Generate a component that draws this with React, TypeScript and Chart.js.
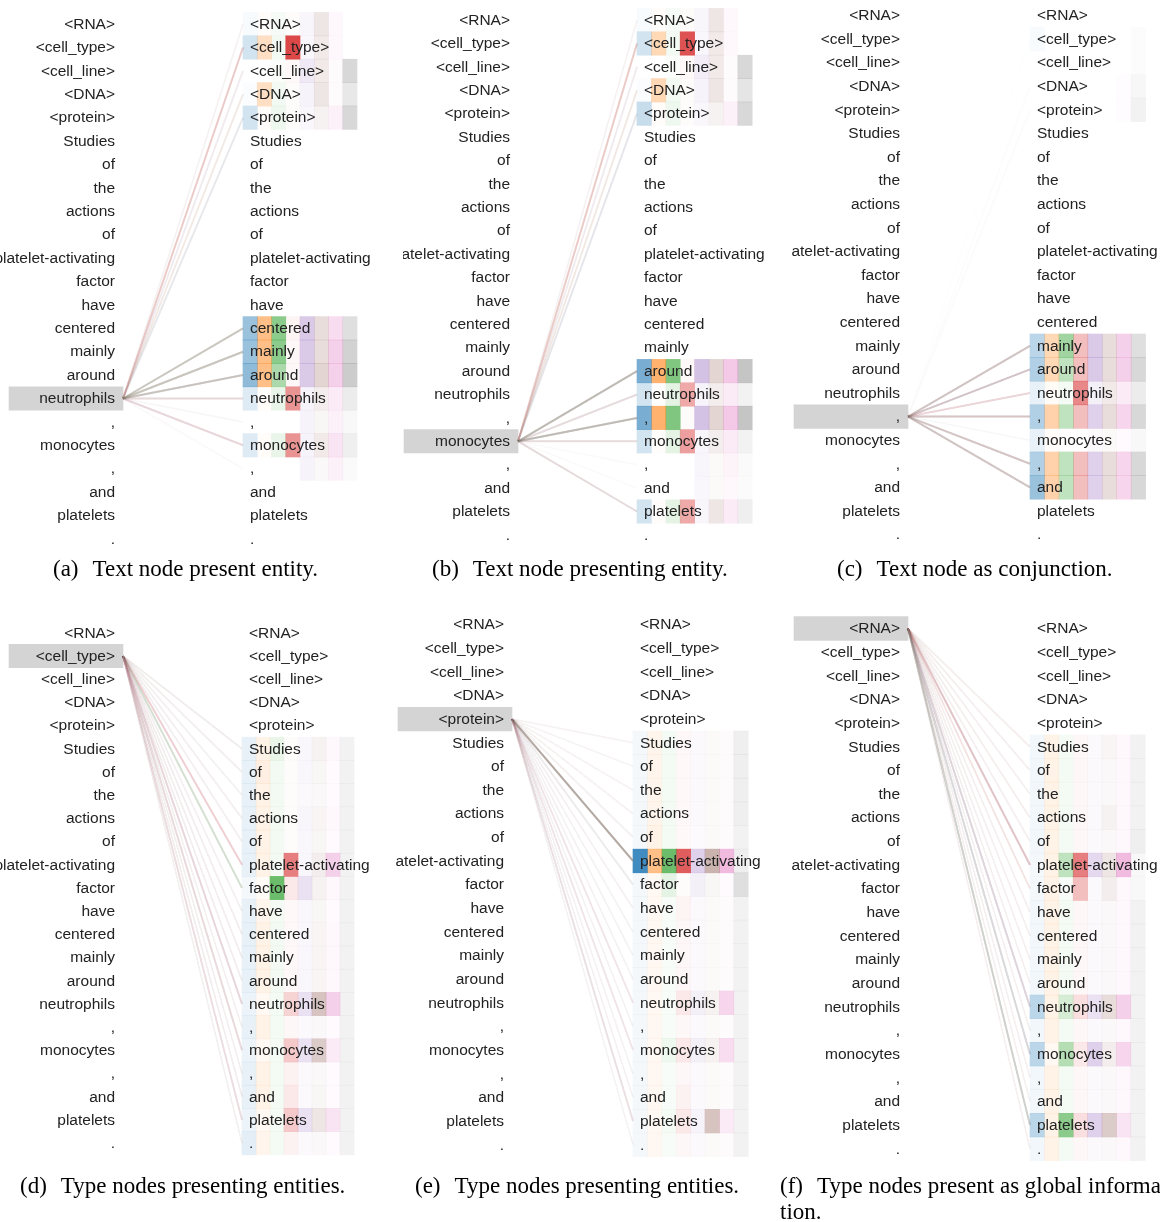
import React, { useEffect, useRef } from "react";
import { Chart, registerables } from "chart.js";

Chart.register(...registerables);

// Token sequence shown on both sides of every attention view
const TOKENS = [
  "<RNA>", "<cell_type>", "<cell_line>", "<DNA>", "<protein>",
  "Studies", "of", "the", "actions", "of", "platelet-activating", "factor",
  "have", "centered", "mainly", "around", "neutrophils", ",", "monocytes",
  ",", "and", "platelets", ".",
];

// One colour per attention head
const HEAD_COLORS: [number, number, number][] = [
  [31, 119, 180], [255, 127, 14], [44, 160, 44], [214, 39, 40],
  [148, 103, 189], [140, 86, 75], [227, 119, 194], [127, 127, 127],
];

// Attention weights (rows = key tokens, columns = heads) for each query token
const ATTN_A = [
  [0.03, 0.02, 0.04, 0.02, 0.06, 0.15, 0.05, 0],
  [0.2, 0.25, 0.06, 0.85, 0.05, 0.12, 0.05, 0],
  [0, 0, 0.02, 0.03, 0.15, 0.12, 0.03, 0.3],
  [0.02, 0.25, 0.06, 0.02, 0.08, 0.15, 0.03, 0.18],
  [0.2, 0.02, 0.08, 0.02, 0.05, 0.08, 0.1, 0.3],
  [0, 0, 0, 0, 0, 0, 0, 0],
  [0, 0, 0, 0, 0, 0, 0, 0],
  [0, 0, 0, 0, 0, 0, 0, 0],
  [0, 0, 0, 0, 0, 0, 0, 0],
  [0, 0, 0, 0, 0, 0, 0, 0],
  [0, 0, 0, 0, 0, 0, 0, 0],
  [0, 0, 0, 0, 0, 0, 0, 0],
  [0, 0, 0, 0, 0, 0, 0, 0],
  [0.45, 0.5, 0.55, 0.05, 0.35, 0.2, 0.25, 0.25],
  [0.45, 0.5, 0.55, 0.04, 0.35, 0.2, 0.35, 0.35],
  [0.5, 0.5, 0.4, 0.04, 0.35, 0.25, 0.35, 0.4],
  [0.15, 0.02, 0.1, 0.5, 0.08, 0.1, 0.15, 0.15],
  [0, 0, 0, 0, 0.08, 0.05, 0.1, 0.05],
  [0.15, 0.02, 0.1, 0.5, 0.08, 0.12, 0.2, 0.12],
  [0, 0, 0, 0, 0.08, 0.04, 0.1, 0.04],
  [0, 0, 0, 0, 0, 0, 0, 0],
  [0, 0, 0, 0, 0, 0, 0, 0],
  [0, 0, 0, 0, 0, 0, 0, 0],
];

const ATTN_B = [
  [0.03, 0.02, 0.04, 0.02, 0.06, 0.15, 0.05, 0],
  [0.2, 0.3, 0.06, 0.8, 0.05, 0.12, 0.05, 0],
  [0, 0, 0.02, 0.03, 0.12, 0.12, 0.03, 0.3],
  [0.02, 0.3, 0.06, 0.02, 0.08, 0.15, 0.03, 0.2],
  [0.25, 0.02, 0.08, 0.02, 0.05, 0.08, 0.1, 0.3],
  [0, 0, 0, 0, 0, 0, 0, 0],
  [0, 0, 0, 0, 0, 0, 0, 0],
  [0, 0, 0, 0, 0, 0, 0, 0],
  [0, 0, 0, 0, 0, 0, 0, 0],
  [0, 0, 0, 0, 0, 0, 0, 0],
  [0, 0, 0, 0, 0, 0, 0, 0],
  [0, 0, 0, 0, 0, 0, 0, 0],
  [0, 0, 0, 0, 0, 0, 0, 0],
  [0, 0, 0, 0, 0, 0, 0, 0],
  [0, 0, 0, 0, 0, 0, 0, 0],
  [0.6, 0.6, 0.6, 0.03, 0.4, 0.25, 0.4, 0.45],
  [0.2, 0.01, 0.12, 0.4, 0.08, 0.1, 0.15, 0.1],
  [0.6, 0.6, 0.6, 0.02, 0.4, 0.25, 0.4, 0.45],
  [0.2, 0.01, 0.12, 0.45, 0.06, 0.1, 0.15, 0.1],
  [0, 0, 0, 0, 0.06, 0.03, 0.08, 0.04],
  [0, 0, 0, 0, 0.05, 0.03, 0.05, 0.03],
  [0.2, 0.01, 0.12, 0.4, 0.06, 0.15, 0.15, 0.12],
  [0, 0, 0, 0, 0, 0, 0, 0],
];

const ATTN_C = [
  [0, 0, 0, 0, 0, 0, 0, 0],
  [0.03, 0, 0, 0, 0, 0, 0, 0.02],
  [0, 0, 0, 0, 0, 0, 0, 0.02],
  [0, 0, 0, 0, 0, 0, 0.02, 0.06],
  [0, 0, 0, 0, 0, 0, 0.02, 0.1],
  [0, 0, 0, 0, 0, 0, 0, 0],
  [0, 0, 0, 0, 0, 0, 0, 0],
  [0, 0, 0, 0, 0, 0, 0, 0],
  [0, 0, 0, 0, 0, 0, 0, 0],
  [0, 0, 0, 0, 0, 0, 0, 0],
  [0, 0, 0, 0, 0, 0, 0, 0],
  [0, 0, 0, 0, 0, 0, 0, 0],
  [0, 0, 0, 0, 0, 0, 0, 0],
  [0, 0, 0, 0, 0, 0, 0, 0],
  [0.3, 0.3, 0.45, 0.3, 0.35, 0.2, 0.35, 0.25],
  [0.35, 0.3, 0.3, 0.3, 0.35, 0.2, 0.35, 0.3],
  [0.1, 0.03, 0.05, 0.55, 0.1, 0.12, 0.15, 0.15],
  [0.35, 0.35, 0.3, 0.3, 0.3, 0.2, 0.3, 0.3],
  [0.1, 0.02, 0, 0, 0.03, 0.03, 0.04, 0.05],
  [0.35, 0.35, 0.3, 0.3, 0.3, 0.2, 0.3, 0.3],
  [0.45, 0.35, 0.3, 0.3, 0.3, 0.2, 0.3, 0.3],
  [0, 0, 0, 0, 0, 0, 0, 0],
  [0, 0, 0, 0, 0, 0, 0, 0],
];

const ATTN_D = [
  [0, 0, 0, 0, 0, 0, 0, 0],
  [0, 0, 0, 0, 0, 0, 0, 0],
  [0, 0, 0, 0, 0, 0, 0, 0],
  [0, 0, 0, 0, 0, 0, 0, 0],
  [0, 0, 0, 0, 0, 0, 0, 0],
  [0.1, 0.1, 0.1, 0.02, 0.05, 0.08, 0.05, 0.1],
  [0.1, 0.12, 0.06, 0.02, 0.05, 0.05, 0.04, 0.1],
  [0.1, 0.1, 0.06, 0.02, 0.04, 0.04, 0.04, 0.1],
  [0.1, 0.1, 0.06, 0.02, 0.06, 0.06, 0.05, 0.1],
  [0.1, 0.1, 0.06, 0.02, 0.05, 0.05, 0.04, 0.1],
  [0.1, 0.1, 0.06, 0.6, 0.05, 0.1, 0.35, 0.1],
  [0.05, 0.03, 0.7, 0.1, 0.2, 0.08, 0.05, 0.1],
  [0.1, 0.08, 0.05, 0.03, 0.05, 0.05, 0.04, 0.1],
  [0.1, 0.1, 0.06, 0.03, 0.05, 0.06, 0.05, 0.1],
  [0.1, 0.1, 0.06, 0.03, 0.05, 0.06, 0.05, 0.1],
  [0.1, 0.1, 0.06, 0.03, 0.05, 0.06, 0.05, 0.1],
  [0.08, 0.05, 0.05, 0.2, 0.2, 0.35, 0.35, 0.1],
  [0.1, 0.1, 0.05, 0.04, 0.04, 0.04, 0.04, 0.1],
  [0.08, 0.05, 0.05, 0.25, 0.2, 0.3, 0.15, 0.1],
  [0.1, 0.1, 0.05, 0.06, 0.04, 0.04, 0.04, 0.1],
  [0.1, 0.1, 0.05, 0.1, 0.04, 0.05, 0.04, 0.1],
  [0.08, 0.06, 0.05, 0.25, 0.2, 0.15, 0.2, 0.1],
  [0.12, 0.08, 0.05, 0.06, 0.04, 0.04, 0.04, 0.1],
];

const ATTN_E = [
  [0, 0, 0, 0, 0, 0, 0, 0],
  [0, 0, 0, 0, 0, 0, 0, 0],
  [0, 0, 0, 0, 0, 0, 0, 0],
  [0, 0, 0, 0, 0, 0, 0, 0],
  [0, 0, 0, 0, 0, 0, 0, 0],
  [0.05, 0.08, 0.05, 0.03, 0.04, 0.03, 0.03, 0.12],
  [0.05, 0.08, 0.05, 0.03, 0.04, 0.03, 0.03, 0.12],
  [0.05, 0.08, 0.05, 0.03, 0.04, 0.03, 0.03, 0.12],
  [0.05, 0.08, 0.05, 0.03, 0.04, 0.03, 0.03, 0.12],
  [0.05, 0.1, 0.05, 0.03, 0.03, 0.03, 0.03, 0.1],
  [0.85, 0.5, 0.7, 0.75, 0.3, 0.45, 0.5, 0.12],
  [0.05, 0.05, 0.12, 0.02, 0.1, 0.05, 0.04, 0.25],
  [0.05, 0.05, 0.03, 0.05, 0.04, 0.03, 0.03, 0.1],
  [0.05, 0.06, 0.03, 0.04, 0.04, 0.03, 0.03, 0.1],
  [0.05, 0.06, 0.03, 0.04, 0.04, 0.03, 0.03, 0.1],
  [0.05, 0.06, 0.03, 0.04, 0.04, 0.03, 0.03, 0.1],
  [0.05, 0.05, 0.03, 0.1, 0.1, 0.08, 0.3, 0.1],
  [0.05, 0.06, 0.03, 0.04, 0.04, 0.03, 0.03, 0.1],
  [0.05, 0.05, 0.08, 0.1, 0.1, 0.08, 0.25, 0.1],
  [0.05, 0.06, 0.03, 0.04, 0.04, 0.03, 0.03, 0.1],
  [0.05, 0.06, 0.03, 0.06, 0.04, 0.03, 0.03, 0.1],
  [0.05, 0.05, 0.05, 0.1, 0.08, 0.35, 0.15, 0.1],
  [0.05, 0.06, 0.03, 0.04, 0.04, 0.03, 0.03, 0.1],
];

const ATTN_F = [
  [0, 0, 0, 0, 0, 0, 0, 0],
  [0, 0, 0, 0, 0, 0, 0, 0],
  [0, 0, 0, 0, 0, 0, 0, 0],
  [0, 0, 0, 0, 0, 0, 0, 0],
  [0, 0, 0, 0, 0, 0, 0, 0],
  [0.06, 0.1, 0.05, 0.04, 0.04, 0.06, 0.05, 0.1],
  [0.06, 0.1, 0.05, 0.04, 0.04, 0.04, 0.05, 0.1],
  [0.06, 0.1, 0.05, 0.04, 0.04, 0.04, 0.05, 0.1],
  [0.06, 0.1, 0.05, 0.04, 0.04, 0.08, 0.05, 0.1],
  [0.06, 0.1, 0.05, 0.04, 0.04, 0.04, 0.05, 0.12],
  [0.05, 0.1, 0.3, 0.6, 0.25, 0.15, 0.5, 0.05],
  [0.05, 0.1, 0.03, 0.3, 0.04, 0.1, 0.05, 0.05],
  [0.06, 0.1, 0.05, 0.04, 0.04, 0.04, 0.05, 0.1],
  [0.06, 0.1, 0.05, 0.04, 0.04, 0.04, 0.05, 0.1],
  [0.06, 0.1, 0.05, 0.04, 0.04, 0.04, 0.05, 0.1],
  [0.06, 0.1, 0.05, 0.04, 0.04, 0.04, 0.05, 0.1],
  [0.3, 0.1, 0.2, 0.15, 0.2, 0.2, 0.35, 0.1],
  [0.06, 0.1, 0.05, 0.04, 0.04, 0.04, 0.05, 0.1],
  [0.3, 0.05, 0.35, 0.1, 0.3, 0.1, 0.3, 0.1],
  [0.06, 0.1, 0.05, 0.04, 0.04, 0.04, 0.05, 0.1],
  [0.06, 0.1, 0.05, 0.04, 0.04, 0.04, 0.05, 0.1],
  [0.3, 0.1, 0.55, 0.15, 0.3, 0.3, 0.2, 0.1],
  [0.06, 0.1, 0.05, 0.04, 0.04, 0.04, 0.05, 0.1],
];

// Query token (highlighted on the left) for each view
const QUERY_ROWS = [16, 18, 17, 1, 4, 0];
const ATTENTION = [ATTN_A, ATTN_B, ATTN_C, ATTN_D, ATTN_E, ATTN_F];
const CAPTION_TAGS = ["(a)", "(b)", "(c)", "(d)", "(e)", "(f)"];
const CAPTIONS = [
  "Text node present entity.",
  "Text node presenting entity.",
  "Text node as conjunction.",
  "Type nodes presenting entities.",
  "Type nodes presenting entities.",
  "Type nodes present as global informa-",
];

// Page geometry of each view
const LAYOUT = [
  { x0: 0, w: 403, boxR: 123, heatX: 243, cw: 14.25, top0: 12, rowH: 23.4 },
  { x0: 403, w: 389, boxR: 518, heatX: 637, cw: 14.4, top0: 8, rowH: 23.4 },
  { x0: 792, w: 368, boxR: 908, heatX: 1030, cw: 14.45, top0: 3.6, rowH: 23.6 },
  { x0: 0, w: 396, boxR: 123, heatX: 242, cw: 14, top0: 621, rowH: 23.2 },
  { x0: 396, w: 396, boxR: 512, heatX: 633, cw: 14.4, top0: 613, rowH: 23.65 },
  { x0: 792, w: 368, boxR: 908, heatX: 1030, cw: 14.4, top0: 617, rowH: 23.65 },
];
const BOX_W = 114;
const LINE_SCALE = 0.2;

const rgba = (c: [number, number, number], a: number) =>
  `rgba(${c[0]},${c[1]},${c[2]},${a})`;

const tokenText = {
  id: "tokenText",
  afterDatasetsDraw(chart: any, _args: any, opts: any) {
    const { ctx } = chart;
    const xs = chart.scales.x;
    const ys = chart.scales.y;
    ctx.save();
    ctx.font = '15.5px "Liberation Sans", Arial, sans-serif';
    ctx.fillStyle = "#222";
    ctx.textBaseline = "middle";
    TOKENS.forEach((t, i) => {
      const py = ys.getPixelForValue(i) + 0.5;
      ctx.textAlign = "right";
      ctx.fillText(t, xs.getPixelForValue(opts.leftText), py);
      ctx.textAlign = "left";
      ctx.fillText(t, xs.getPixelForValue(opts.rightText), py);
    });
    ctx.restore();
  },
};

function AttentionView({ index }: { index: number }) {
  const ref = useRef<HTMLCanvasElement | null>(null);
  const L = LAYOUT[index];
  const H = Math.round(25 * L.rowH);

  useEffect(() => {
    const attn = ATTENTION[index];
    const q = QUERY_ROWS[index];
    const datasets: any[] = [];

    // lines from the query token to each key token, one per head
    HEAD_COLORS.forEach((col, h) => {
      const pts: any[] = [];
      const cols: string[] = [];
      attn.forEach((row, t) => {
        if (row[h] <= 0) return;
        pts.push({ x: L.boxR, y: q });
        cols.push("rgba(0,0,0,0)");
        pts.push({ x: L.heatX, y: t });
        cols.push(rgba(col, Math.min(1, row[h] * LINE_SCALE)));
        pts.push({ x: null, y: null });
        cols.push("rgba(0,0,0,0)");
      });
      datasets.push({
        type: "line",
        indexAxis: "x",
        data: pts,
        borderWidth: 2,
        pointRadius: 0,
        spanGaps: false,
        fill: false,
        tension: 0,
        borderColor: "rgba(0,0,0,0)",
        segment: { borderColor: (c: any) => cols[c.p1DataIndex] },
      });
    });

    // attention cells, one column per head
    HEAD_COLORS.forEach((col, h) => {
      datasets.push({
        type: "bar",
        data: attn.map((_, t) => ({
          y: t,
          x: [L.heatX + h * L.cw, L.heatX + (h + 1) * L.cw],
        })),
        backgroundColor: attn.map((row) => rgba(col, row[h])),
        borderWidth: 0,
        barPercentage: 1,
        categoryPercentage: 1,
        grouped: false,
      });
    });

    // highlighted query token
    datasets.push({
      type: "bar",
      data: [{ y: q, x: [L.boxR - BOX_W, L.boxR] }],
      backgroundColor: "rgb(212,212,212)",
      borderWidth: 0,
      barThickness: L.rowH,
      grouped: false,
    });

    const chart = new Chart(ref.current as HTMLCanvasElement, {
      type: "bar",
      data: { datasets },
      options: {
        indexAxis: "y",
        responsive: false,
        animation: false,
        devicePixelRatio: 1,
        events: [],
        layout: { padding: 0 },
        plugins: {
          legend: { display: false },
          tooltip: { enabled: false },
          tokenText: { leftText: L.boxR - 8, rightText: L.heatX + 7 },
        } as any,
        scales: {
          x: { type: "linear", min: L.x0, max: L.x0 + L.w, display: false, offset: false },
          y: {
            type: "linear",
            min: -1.5,
            max: -1.5 + H / L.rowH,
            reverse: true,
            display: false,
            offset: false,
            grace: 0,
          },
        },
      } as any,
      plugins: [tokenText],
    });
    return () => chart.destroy();
  }, [index]);

  return (
    <canvas
      ref={ref}
      width={L.w}
      height={H}
      style={{
        position: "absolute",
        left: L.x0,
        top: L.top0 - L.rowH,
        width: L.w,
        height: H,
      }}
    />
  );
}

const CAPTION_POS = [
  { left: 53, top: 556 },
  { left: 432, top: 556 },
  { left: 837, top: 556 },
  { left: 20, top: 1173 },
  { left: 415, top: 1173 },
  { left: 780, top: 1173 },
];

export default function App() {
  return (
    <div
      style={{
        position: "absolute",
        left: 0,
        top: 0,
        width: 1160,
        height: 1222,
        overflow: "hidden",
        background: "#fff",
      }}
    >
      {LAYOUT.map((_, i) => (
        <AttentionView key={i} index={i} />
      ))}
      {CAPTION_POS.map((p, i) => (
        <div
          key={"c" + i}
          style={{
            position: "absolute",
            left: p.left,
            top: p.top,
            whiteSpace: "nowrap",
            font: '23px "Liberation Serif", "Times New Roman", serif',
            lineHeight: "26px",
            color: "#000",
          }}
        >
          <span style={{ marginRight: 14 }}>{CAPTION_TAGS[i]}</span>
          {CAPTIONS[i]}
          {i === 5 ? (
            <>
              <br />
              tion.
            </>
          ) : null}
        </div>
      ))}
    </div>
  );
}
